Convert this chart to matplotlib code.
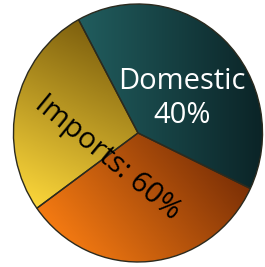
import matplotlib
matplotlib.use('Agg')
import matplotlib.pyplot as plt
import matplotlib.colors as mcolors
import numpy as np

# shares of the pie, clockwise from the top boundary
labels = ['Domestic', 'Imports (a)', 'Imports (b)']
shares = [40, 33, 27]
light_colors = ['#215d5e', '#f47a12', '#fbd63a']
dark_colors = ['#0b2427', '#7c3006', '#7e600e']
shade_angles = [0, 40, 65]   # direction (deg) in which each wedge gets darker

domestic_text = ['Domestic', '40%']
imports_text = 'Imports: 60%'

fig = plt.figure(figsize=(2.65, 2.67), dpi=100)
ax = fig.add_axes([0, 0, 1, 1])

wedges, _ = ax.pie(shares, startangle=118.5, counterclock=False,
                   wedgeprops=dict(edgecolor='#2b2a1e', linewidth=1.0))

ax.set_aspect('auto')
xlim = (-1.108, 1.020)
ylim = (-1.039, 1.031)

gx, gy = np.meshgrid(np.linspace(xlim[0], xlim[1], 300),
                     np.linspace(ylim[0], ylim[1], 300))

for w, lc, dc, ang in zip(wedges, light_colors, dark_colors, shade_angles):
    th = np.radians(np.linspace(w.theta1, w.theta2, 50))
    px = np.concatenate([[0], np.cos(th)])
    py = np.concatenate([[0], np.sin(th)])
    d = np.array([np.cos(np.radians(ang)), np.sin(np.radians(ang))])
    proj = px * d[0] + py * d[1]
    t = (gx * d[0] + gy * d[1] - proj.min()) / (proj.max() - proj.min())
    t = np.clip(t, 0, 1)
    cmap = mcolors.LinearSegmentedColormap.from_list('g', [lc, dc])
    im = ax.imshow(t, cmap=cmap, vmin=0, vmax=1, origin='lower',
                   extent=[xlim[0], xlim[1], ylim[0], ylim[1]],
                   aspect='auto', zorder=1)
    im.set_clip_path(w)
    w.set_facecolor('none')
    w.set_zorder(2)

ax.text(0.353, 0.40, domestic_text[0], color='white', fontsize=21,
        family='Open Sans', ha='center', va='center', zorder=3)
ax.text(0.353, 0.135, domestic_text[1], color='white', fontsize=21,
        family='Open Sans', ha='center', va='center', zorder=3)
ax.text(-0.241, -0.194, imports_text, color='black', fontsize=21,
        family='Open Sans', ha='center', va='center', rotation=-39.4,
        rotation_mode='anchor', zorder=3)

ax.set_xlim(*xlim)
ax.set_ylim(*ylim)
ax.axis('off')

fig.savefig('out.png', dpi=100, facecolor='white')
